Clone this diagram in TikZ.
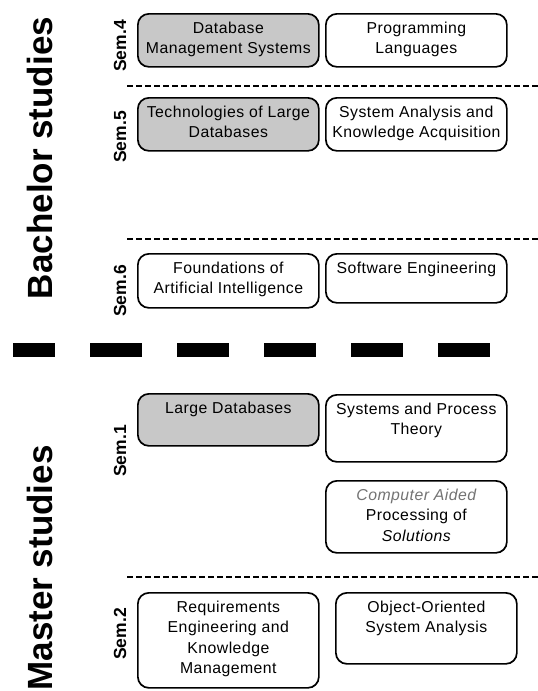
\documentclass[tikz,border=0pt]{standalone}
\usepackage{fontspec}
\usepackage{tikz}
\usetikzlibrary{positioning}
\newfontfamily\coursefont{Liberation Sans}[LetterSpace=3]
\newfontfamily\labelfont{Liberation Sans}
\definecolor{required}{RGB}{200,200,200}
\newcommand{\courseFont}{\coursefont\fontsize{15.8}{20.5}\selectfont}

\begin{document}
\begin{tikzpicture}[x=1pt, y=-1pt,
	course/.style={draw=black, line width=1.7pt, rounded corners=11pt, fill=white,
		inner sep=0pt, minimum width=181pt, anchor=north west},
	core/.style={course, fill=required},
	coursetext/.style={anchor=north, align=center, inner sep=0pt, yshift=-8.5pt, font=\courseFont},
	semester/.style={rotate=90, inner sep=0pt, font=\labelfont\bfseries\fontsize{17.5}{17.5}\selectfont},
	studies/.style={rotate=90, inner sep=0pt, font=\labelfont\bfseries\fontsize{35}{35}\selectfont},
	separator/.style={line width=2.4pt, dash pattern=on 6pt off 3pt}]
	\useasboundingbox (0,0) rectangle (538,691);
	% Bachelor studies
	\node[studies] (bachelor) at (40,158) {Bachelor studies};
	\node[semester] (sem4) at (120,46) {Sem.4};
	\node[core, minimum height=53pt] (dbms) at (137,13) {};
	\node[coursetext] (dbmsT) at (dbms.north) {Database\\Management Systems};
	\node[course, minimum height=53pt] (prog) at (325,13) {};
	\node[coursetext] (progT) at (prog.north) {Programming\\Languages};
	\draw[separator] (127,86) -- (538,86);
	\node[semester] (sem5) at (120,137) {Sem.5};
	\node[core, minimum height=53pt] (tldb) at (137,97) {};
	\node[coursetext] (tldbT) at (tldb.north) {Technologies of Large\\Databases};
	\node[course, minimum height=53pt] (sakq) at (325,97) {};
	\node[coursetext] (sakqT) at (sakq.north) {System Analysis and\\Knowledge Acquisition};
	\draw[separator] (127,239) -- (538,239);
	\node[semester] (sem6) at (120,291) {Sem.6};
	\node[course, minimum height=54pt] (fai) at (137,253) {};
	\node[coursetext] (faiT) at (fai.north) {Foundations of\\Artificial Intelligence};
	\node[course, minimum height=49pt] (soft) at (325,253) {};
	\node[coursetext] (softT) at (soft.north) {Software Engineering};
	% bachelor / master border
	\draw[line width=14pt, dash pattern=on 52pt off 35pt, dash phase=10pt] (13,350) -- (490,350);
	% Master studies
	\node[studies] (master) at (40,568) {Master studies};
	\node[semester] (sem1) at (120,451) {Sem.1};
	\node[core, minimum height=52pt] (ldb) at (137,393) {};
	\node[coursetext] (ldbT) at (ldb.north) {Large Databases};
	\node[course, minimum height=67pt] (spt) at (325,394) {};
	\node[coursetext] (sptT) at (spt.north) {Systems and Process\\Theory};
	\node[course, minimum height=72pt] (caps) at (325,480) {};
	\node[coursetext] (capsT) at (caps.north) {{\color{black!55}\itshape Computer Aided}\\Processing of\\{\itshape Solutions}};
	\draw[separator] (127,577) -- (538,577);
	\node[semester] (sem2) at (120,634) {Sem.2};
	\node[course, minimum height=95pt] (reke) at (137,592) {};
	\node[coursetext] (rekeT) at (reke.north) {Requirements\\Engineering and\\Knowledge\\Management};
	\node[course, minimum height=71pt] (oosa) at (335,592) {};
	\node[coursetext] (oosaT) at (oosa.north) {Object-Oriented\\System Analysis};
\end{tikzpicture}
\end{document}
